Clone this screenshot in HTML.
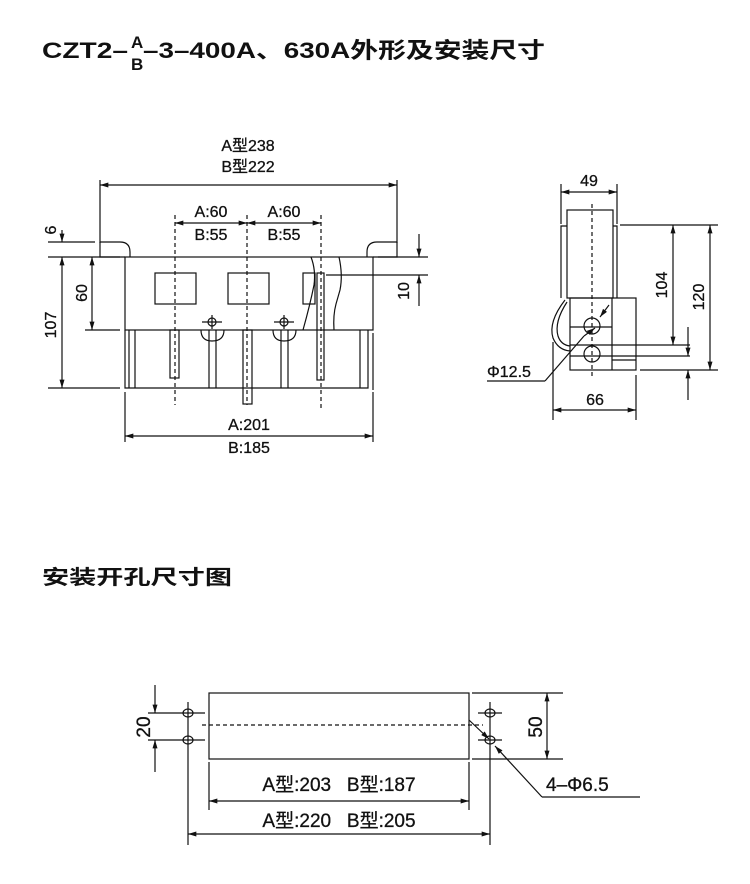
<!DOCTYPE html>
<html><head><meta charset="utf-8"><style>
html,body{margin:0;padding:0;background:#fff;}
svg{display:block;}
text{font-family:"Liberation Sans","Noto Sans CJK SC",sans-serif;fill:#111;}
</style></head><body>
<svg width="750" height="884" viewBox="0 0 750 884" xmlns="http://www.w3.org/2000/svg">
<defs>
<marker id="a" viewBox="0 0 10 6" refX="10" refY="3" markerWidth="9" markerHeight="5" orient="auto-start-reverse" markerUnits="userSpaceOnUse"><path d="M0,0 L10,3 L0,6 z" fill="#111"/></marker>
</defs>
<!-- Title -->
<text x="42" y="58" font-size="22" font-weight="bold" textLength="86" lengthAdjust="spacingAndGlyphs">CZT2–</text>
<text x="131" y="48" font-size="17" font-weight="bold">A</text>
<text x="131" y="70" font-size="17" font-weight="bold">B</text>
<text x="143" y="58" font-size="22" font-weight="bold" textLength="402" lengthAdjust="spacingAndGlyphs">–3–400A、630A外形及安装尺寸</text>

<g stroke="#111" stroke-width="1.2" fill="none">
<!-- Front view -->
<line x1="100" y1="185" x2="397" y2="185" marker-start="url(#a)" marker-end="url(#a)"/>
<line x1="100" y1="180" x2="100" y2="243"/>
<line x1="397" y1="180" x2="397" y2="243"/>
<path d="M100,242 H120 Q130,242 130,252 V257 M100,242 V257 H125"/>
<path d="M397,242 H377 Q367,242 367,252 V257 M397,242 V257 H373"/>
<rect x="125" y="257" width="248" height="73"/>
<path d="M125,330 V388 H368 V330"/>
<line x1="129" y1="330" x2="129" y2="388"/>
<line x1="135" y1="330" x2="135" y2="388"/>
<line x1="360" y1="330" x2="360" y2="388"/>
<line x1="373" y1="333" x2="373" y2="390"/>
<rect x="155" y="273" width="41" height="31"/>
<rect x="228" y="273" width="41" height="31"/>
<rect x="303" y="273" width="12" height="31"/>
<path d="M311,257 Q316,270 314,285 Q310,305 303,330"/>
<path d="M339,257 Q343,275 340,290 L336,304 Q333,315 334,330"/>
<rect x="170" y="330" width="9" height="48"/>
<rect x="243" y="330" width="9" height="74"/>
<rect x="317" y="273" width="7" height="107"/>
<path d="M209,330 V388 M216,330 V388 M281,330 V388 M288,330 V388"/>
<path d="M201,330 Q201,341 212,341 Q224,341 224,330"/>
<path d="M273,330 Q273,341 284,341 Q296,341 296,330"/>
<circle cx="212" cy="322" r="4"/><line x1="202" y1="322" x2="222" y2="322"/><line x1="212" y1="315" x2="212" y2="329"/>
<circle cx="284" cy="322" r="4"/><line x1="274" y1="322" x2="294" y2="322"/><line x1="284" y1="315" x2="284" y2="329"/>
<g stroke-dasharray="4,3">
<line x1="175" y1="215" x2="175" y2="405"/>
<line x1="247" y1="215" x2="247" y2="405"/>
<line x1="321" y1="215" x2="321" y2="408"/>
</g>
<line x1="175" y1="223" x2="247" y2="223" marker-start="url(#a)" marker-end="url(#a)"/>
<line x1="247" y1="223" x2="321" y2="223" marker-start="url(#a)" marker-end="url(#a)"/>
<!-- left dims -->
<line x1="48" y1="242" x2="95" y2="242"/>
<line x1="48" y1="257" x2="120" y2="257"/>
<line x1="85" y1="330" x2="120" y2="330"/>
<line x1="48" y1="388" x2="120" y2="388"/>
<line x1="62" y1="230" x2="62" y2="242" marker-end="url(#a)"/>
<line x1="62" y1="257" x2="62" y2="388" marker-start="url(#a)" marker-end="url(#a)"/>
<line x1="92" y1="257" x2="92" y2="330" marker-start="url(#a)" marker-end="url(#a)"/>
<!-- right 10 -->
<line x1="378" y1="257" x2="428" y2="257"/>
<line x1="326" y1="275" x2="428" y2="275"/>
<line x1="419" y1="234" x2="419" y2="257" marker-end="url(#a)"/>
<line x1="419" y1="306" x2="419" y2="275" marker-end="url(#a)"/>
<!-- bottom -->
<line x1="125" y1="392" x2="125" y2="442"/>
<line x1="373" y1="392" x2="373" y2="442"/>
<line x1="125" y1="436" x2="373" y2="436" marker-start="url(#a)" marker-end="url(#a)"/>

<!-- Side view -->
<line x1="561" y1="192" x2="617" y2="192" marker-start="url(#a)" marker-end="url(#a)"/>
<line x1="561" y1="184" x2="561" y2="224"/>
<line x1="617" y1="184" x2="617" y2="224"/>
<rect x="567" y="210" width="46" height="88"/>
<path d="M561,298 V226 H567 M613,226 H617 V298"/>
<rect x="570" y="298" width="66" height="72"/>
<line x1="612" y1="298" x2="612" y2="370"/>
<line x1="570" y1="327" x2="612" y2="327"/>
<line x1="570" y1="345" x2="690" y2="345"/>
<line x1="570" y1="356" x2="690" y2="356"/>
<line x1="612" y1="360" x2="636" y2="360"/>
<circle cx="592" cy="326" r="8"/>
<circle cx="592" cy="354" r="8"/>
<path d="M565,300 Q548,322 553,338 Q558,350 570,351"/>
<path d="M567,302 Q554,322 558,336 Q561,345 570,346"/>
<line x1="592" y1="204" x2="592" y2="378" stroke-dasharray="4,3"/>
<line x1="620" y1="225" x2="718" y2="225"/>
<line x1="640" y1="370" x2="718" y2="370"/>
<line x1="673" y1="225" x2="673" y2="345" marker-start="url(#a)" marker-end="url(#a)"/>
<line x1="710" y1="225" x2="710" y2="370" marker-start="url(#a)" marker-end="url(#a)"/>
<line x1="688" y1="327" x2="688" y2="356" marker-end="url(#a)"/>
<line x1="688" y1="400" x2="688" y2="370" marker-end="url(#a)"/>
<line x1="609" y1="305" x2="600" y2="317" marker-end="url(#a)"/>
<line x1="584" y1="336" x2="545" y2="381"/>
<line x1="595" y1="328" x2="584" y2="336" marker-start="url(#a)"/>
<line x1="545" y1="381" x2="487" y2="381"/>
<line x1="553" y1="342" x2="553" y2="420"/>
<line x1="636" y1="375" x2="636" y2="420"/>
<line x1="553" y1="410" x2="636" y2="410" marker-start="url(#a)" marker-end="url(#a)"/>

<!-- Cutout -->
<rect x="209" y="693" width="260" height="66"/>
<line x1="202" y1="725" x2="483" y2="725" stroke-dasharray="4,3"/>
<g>
<ellipse cx="188" cy="713" rx="5" ry="4"/><ellipse cx="188" cy="740" rx="5" ry="4"/>
<ellipse cx="490" cy="713" rx="5" ry="4"/><ellipse cx="490" cy="740" rx="5" ry="4"/>
<line x1="188" y1="702" x2="188" y2="845"/>
<line x1="490" y1="702" x2="490" y2="845"/>
<line x1="148" y1="713" x2="205" y2="713"/>
<line x1="148" y1="740" x2="205" y2="740"/>
<line x1="478" y1="713" x2="502" y2="713"/>
<line x1="478" y1="740" x2="502" y2="740"/>
</g>
<line x1="155" y1="685" x2="155" y2="713" marker-end="url(#a)"/>
<line x1="155" y1="772" x2="155" y2="740" marker-end="url(#a)"/>
<line x1="472" y1="693" x2="563" y2="693"/>
<line x1="472" y1="759" x2="563" y2="759"/>
<line x1="547" y1="693" x2="547" y2="759" marker-start="url(#a)" marker-end="url(#a)"/>
<line x1="209" y1="762" x2="209" y2="810"/>
<line x1="469" y1="762" x2="469" y2="810"/>
<line x1="209" y1="801" x2="469" y2="801" marker-start="url(#a)" marker-end="url(#a)"/>
<line x1="188" y1="834" x2="490" y2="834" marker-start="url(#a)" marker-end="url(#a)"/>
<line x1="469" y1="720" x2="489" y2="739" marker-end="url(#a)"/>
<line x1="495" y1="746" x2="542" y2="797" marker-start="url(#a)"/>
<line x1="542" y1="797" x2="640" y2="797"/>
</g>

<!-- Labels -->
<g font-size="16" stroke="#111" stroke-width="0.3">
<text x="248" y="151" text-anchor="middle">A型238</text>
<text x="248" y="172" text-anchor="middle">B型222</text>
<text x="211" y="217" text-anchor="middle">A:60</text>
<text x="211" y="240" text-anchor="middle">B:55</text>
<text x="284" y="217" text-anchor="middle">A:60</text>
<text x="284" y="240" text-anchor="middle">B:55</text>
<text x="249" y="430" text-anchor="middle">A:201</text>
<text x="249" y="453" text-anchor="middle">B:185</text>
<text transform="translate(56,230) rotate(-90)" text-anchor="middle">6</text>
<text transform="translate(56,325) rotate(-90)" text-anchor="middle">107</text>
<text transform="translate(87,293) rotate(-90)" text-anchor="middle">60</text>
<text transform="translate(409,291) rotate(-90)" text-anchor="middle">10</text>
<text x="589" y="186" text-anchor="middle">49</text>
<text transform="translate(667,285) rotate(-90)" text-anchor="middle">104</text>
<text transform="translate(704,297) rotate(-90)" text-anchor="middle">120</text>
<text x="487" y="377">Φ12.5</text>
<text x="595" y="405" text-anchor="middle">66</text>
</g>
<text x="42" y="584" font-size="20" font-weight="bold" textLength="190" lengthAdjust="spacingAndGlyphs">安装开孔尺寸图</text>
<g font-size="19" stroke="#111" stroke-width="0.3">
<text x="339" y="791" text-anchor="middle">A型:203&#160;&#160;&#160;B型:187</text>
<text x="339" y="827" text-anchor="middle">A型:220&#160;&#160;&#160;B型:205</text>
<text transform="translate(150,727) rotate(-90)" text-anchor="middle">20</text>
<text transform="translate(542,727) rotate(-90)" text-anchor="middle">50</text>
<text x="546" y="791">4–Φ6.5</text>
</g>
</svg>
</body></html>
